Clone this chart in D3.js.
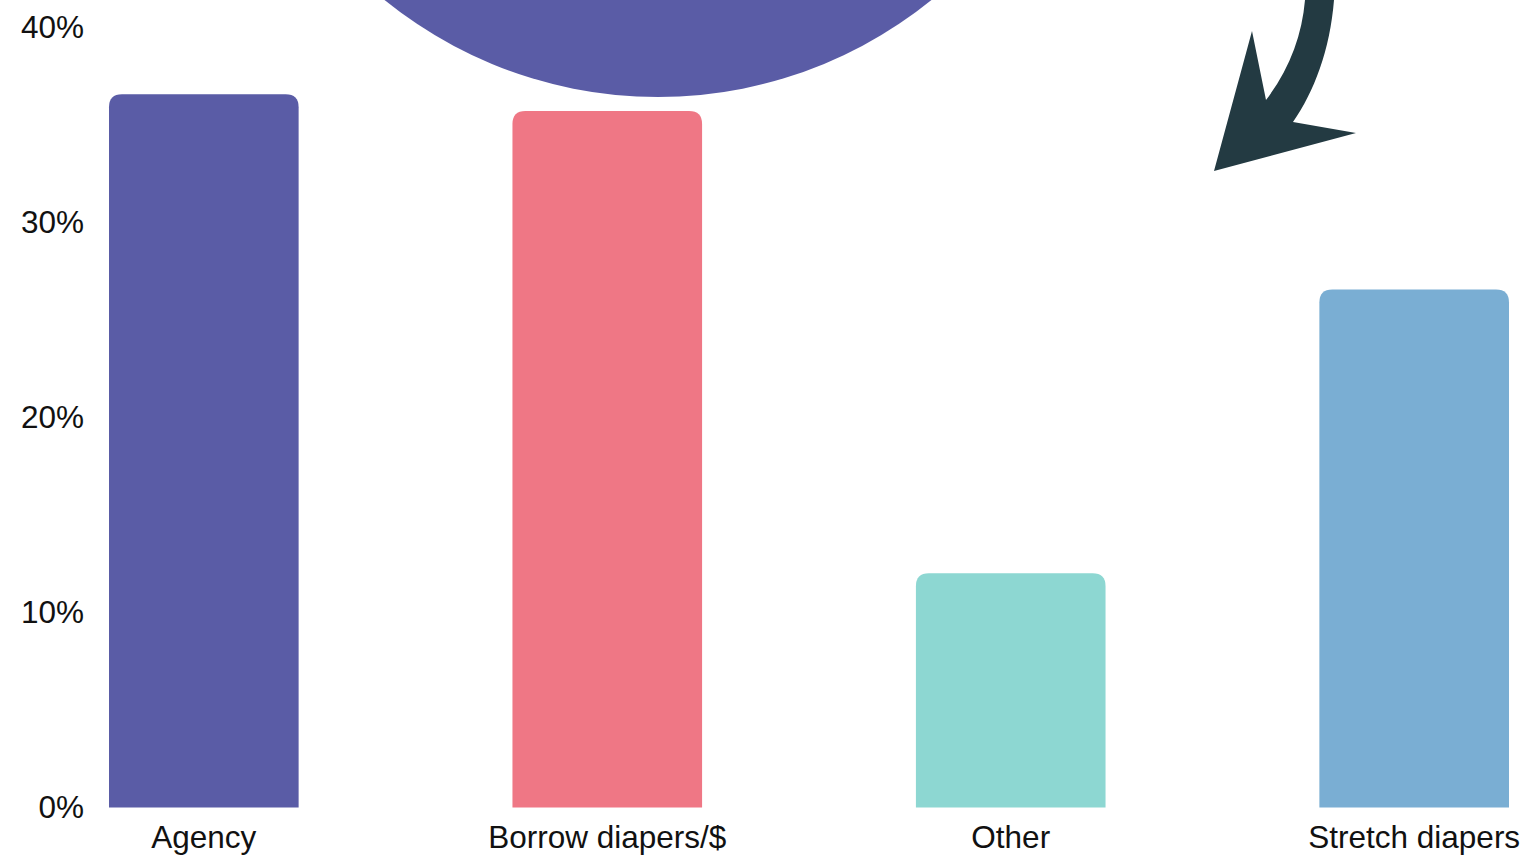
<!DOCTYPE html>
<html>
<head>
<meta charset="utf-8">
<script src="https://cdn.jsdelivr.net/npm/d3@7"></script>
<style>
  html, body { margin: 0; padding: 0; background: #fff; overflow: hidden; }
  svg text { font-family: "Liberation Sans", Arial, sans-serif; fill: #111; }
</style>
</head>
<body>
<div id="chart"></div>
<script>
// --- data ---
const categories = ["Agency", "Borrow diapers/$", "Other", "Stretch diapers"];
const shares     = [36.55, 35.7, 12.0, 26.55];
const colors     = ["#5a5ca6", "#ef7785", "#8dd7d2", "#7aaed3"];
const yTicks     = [0, 10, 20, 30, 40];

// --- sizing ---
const W = 1526, H = 855;

const svg = d3.select("#chart")
  .append("svg")
  .attr("width", W)
  .attr("height", H);

// decorative circle at the top
svg.append("circle")
  .attr("cx", 658)
  .attr("cy", -337)
  .attr("r", 434)
  .attr("fill", "#5a5ca6");

// decorative arrow
svg.append("path")
  .attr("d", "M1305,0 C1302,36 1289,70 1266,100 L1252,31 L1214,171 L1356,133 L1293,122 C1314,92 1330,50 1334,0 Z")
  .attr("fill", "#233a42");

// --- scales ---
const x = d3.scaleBand()
  .domain(categories)
  .range([109, 1509])
  .paddingInner(0.53)
  .paddingOuter(0);

const y = d3.scaleLinear()
  .domain([0, 40])
  .range([807.5, 27]);

// y tick labels (no axis line)
const yAxis = svg.append("g")
  .attr("transform", "translate(84,0)")
  .call(d3.axisLeft(y).tickValues(yTicks).tickSize(0).tickPadding(0).tickFormat(d => d + "%"));
yAxis.select(".domain").remove();
yAxis.selectAll("text")
  .style("font-size", "31.5px")
  .attr("fill", "#111")
  .attr("font-family", null);

// x labels
const xAxis = svg.append("g")
  .attr("transform", "translate(0,807.5)")
  .call(d3.axisBottom(x).tickSize(0).tickPadding(18));
xAxis.select(".domain").remove();
xAxis.selectAll("text")
  .style("font-size", "31.5px")
  .attr("fill", "#111")
  .attr("font-family", null);

// rounded-top bar path
function topRounded(x0, y0, w, h, r) {
  r = Math.min(r, w / 2, h);
  return `M${x0},${y0 + h} V${y0 + r} Q${x0},${y0} ${x0 + r},${y0} H${x0 + w - r} Q${x0 + w},${y0} ${x0 + w},${y0 + r} V${y0 + h} Z`;
}

// --- bars ---
svg.append("g")
  .selectAll("path")
  .data(categories.map((c, i) => ({ cat: c, value: shares[i], color: colors[i] })))
  .join("path")
  .attr("fill", d => d.color)
  .attr("d", d => topRounded(x(d.cat), y(d.value), x.bandwidth(), y(0) - y(d.value), 13));
</script>
</body>
</html>
